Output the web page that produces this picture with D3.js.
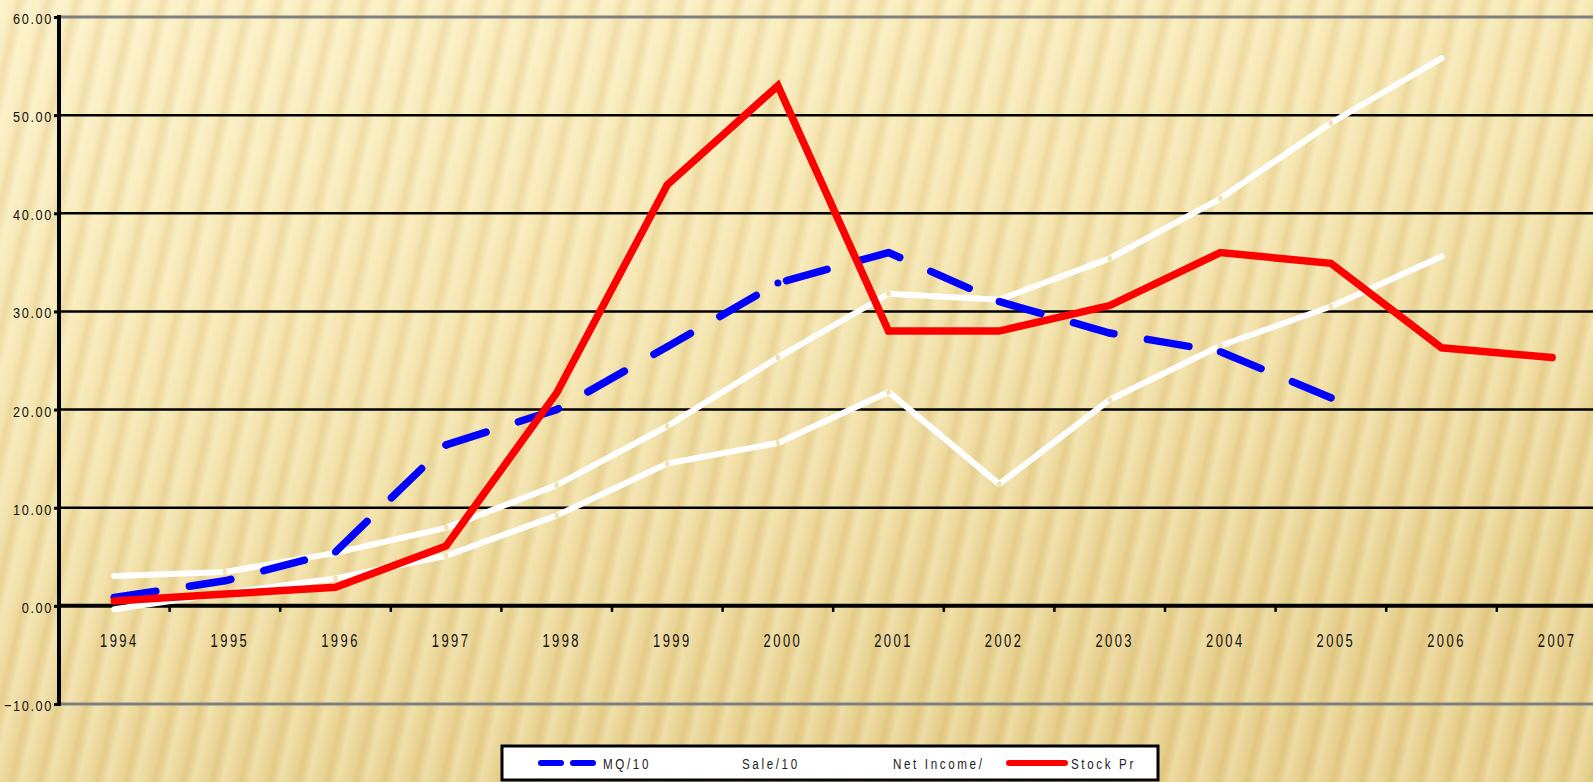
<!DOCTYPE html>
<html><head><meta charset="utf-8">
<script src="https://cdn.jsdelivr.net/npm/d3@7"></script>
<style>html,body{margin:0;padding:0;overflow:hidden;background:#f3e3ad}svg{display:block}</style>
</head><body>
<svg id="chart" width="1593" height="782"></svg>
<script>
// ---------- data ----------
const years = ["1994","1995","1996","1997","1998","1999","2000","2001","2002","2003","2004","2005","2006","2007"];
const mq         = [0.85, 2.55, 5.5, 16.4, 20.0, 26.4, 32.9, 36.0, 31.0, 27.8, 25.9, 21.2, null, null];
const sale       = [3.05, 3.45, 5.4, 7.95, 12.3, 18.3, 25.3, 31.8, 31.2, 35.4, 41.5, 49.2, 55.8, null];
const netIncome  = [-0.35, 1.3, 2.8, 5.1, 9.2, 14.5, 16.6, 21.8, 12.4, 21.0, 26.5, 30.5, 35.6, null];
const stockPrice = [0.5, 1.2, 1.9, 6.1, 21.7, 42.9, 53.0, 28.0, 28.0, 30.6, 36.0, 34.9, 26.3, 25.3];
const yTicks = [-10, 0, 10, 20, 30, 40, 50, 60];
const legendLabels = ["MQ/10", "Sale/10", "Net Income/", "Stock Pr"];

// ---------- setup ----------
const W = 1593, H = 782;
const svg = d3.select("#chart");
const FONT = "'Liberation Sans', Arial, sans-serif";

const x = d3.scaleBand().domain(years).range([59, 59 + 14 * 110.6]);
const y = d3.scaleLinear().domain([-10, 60]).range([704, 17]);
const cx = d => x(d) + x.bandwidth() / 2;

// ---------- background ----------
const defs = svg.append("defs");
const bgGrad = defs.append("linearGradient").attr("id", "bgGrad")
  .attr("x1", 0).attr("y1", 0).attr("x2", 0.45).attr("y2", 1);
bgGrad.append("stop").attr("offset", 0).attr("stop-color", "#fcf0c6");
bgGrad.append("stop").attr("offset", 0.45).attr("stop-color", "#f5e5af");
bgGrad.append("stop").attr("offset", 1).attr("stop-color", "#e6cf8c");

const stripeGrad = defs.append("linearGradient").attr("id", "stripeGrad")
  .attr("x1", 0).attr("y1", 0).attr("x2", 1).attr("y2", 0);
stripeGrad.append("stop").attr("offset", 0).attr("stop-color", "#fffbe0").attr("stop-opacity", 0.3);
stripeGrad.append("stop").attr("offset", 0.35).attr("stop-color", "#fff6d4").attr("stop-opacity", 0.1);
stripeGrad.append("stop").attr("offset", 0.65).attr("stop-color", "#c9a650").attr("stop-opacity", 0.2);
stripeGrad.append("stop").attr("offset", 1).attr("stop-color", "#fffbe0").attr("stop-opacity", 0.3);

const pat = defs.append("pattern").attr("id", "stripes")
  .attr("patternUnits", "userSpaceOnUse").attr("width", 28).attr("height", 40)
  .attr("patternTransform", "rotate(13)");
pat.append("rect").attr("width", 28).attr("height", 40).attr("fill", "url(#stripeGrad)");

svg.append("rect").attr("width", W).attr("height", H).attr("fill", "url(#bgGrad)");
svg.append("rect").attr("width", W).attr("height", H).attr("fill", "url(#stripes)");

// ---------- gridlines ----------
svg.append("g").selectAll("line").data(yTicks.filter(v => v !== 0)).join("line")
  .attr("x1", 59).attr("x2", W)
  .attr("y1", d => y(d)).attr("y2", d => y(d))
  .attr("stroke", d => (d === 60 || d === -10) ? "#7f7f7f" : "#000")
  .attr("stroke-width", d => (d === 60 || d === -10) ? 3 : 2.5);

// ---------- y axis ----------
const yAxis = svg.append("g").attr("transform", "translate(59,0)")
  .call(d3.axisLeft(y).tickValues(yTicks).tickFormat(d3.format(".2f")).tickSize(5).tickPadding(6));
yAxis.select(".domain").remove();
yAxis.selectAll(".tick line").attr("stroke", "#000").attr("stroke-width", 3);
yAxis.selectAll(".tick text")
  .attr("font-family", FONT).attr("font-size", 15.5).attr("fill", "#111")
  .attr("letter-spacing", 2)
  .attr("x", 0).attr("dy", null)
  .attr("dominant-baseline", "central")
  .attr("transform", "translate(-6,1) scale(0.82,1)");
svg.append("line").attr("x1", 59).attr("x2", 59).attr("y1", y(60) - 2).attr("y2", y(-10) + 2)
  .attr("stroke", "#000").attr("stroke-width", 4);

// ---------- x axis (at zero) ----------
svg.append("line").attr("x1", 57).attr("x2", W).attr("y1", y(0)).attr("y2", y(0))
  .attr("stroke", "#000").attr("stroke-width", 4);
svg.append("g").selectAll("line").data(years.slice(1)).join("line")
  .attr("x1", d => x(d)).attr("x2", d => x(d))
  .attr("y1", y(0)).attr("y2", y(0) + 6)
  .attr("stroke", "#000").attr("stroke-width", 2.5);
svg.append("g").selectAll("text").data(years).join("text")
  .attr("transform", d => `translate(${cx(d) + 5},${y(0) + 41}) scale(0.7,1)`)
  .attr("text-anchor", "middle")
  .attr("font-family", FONT).attr("font-size", 18.5).attr("letter-spacing", 3.5)
  .attr("fill", "#111")
  .text(d => d);

// ---------- series ----------
function series(values) {
  return years.map((yr, i) => ({ yr, v: values[i] })).filter(d => d.v !== null);
}
const line = d3.line().x(d => cx(d.yr)).y(d => y(d.v));
const plot = svg.append("g");

[sale, netIncome].forEach(vals => {
  const pts = series(vals);
  plot.append("path").datum(pts).attr("d", line)
    .attr("fill", "none").attr("stroke", "#fff").attr("stroke-width", 6)
    .attr("stroke-linejoin", "round").attr("stroke-linecap", "round");
  plot.append("g").selectAll("ellipse").data(pts.slice(1, -1)).join("ellipse")
    .attr("cx", d => cx(d.yr)).attr("cy", d => y(d.v)).attr("rx", 2.3).attr("ry", 3)
    .attr("fill", "#f1e2b4");
});

const mqPts = series(mq);
plot.append("path").datum(mqPts).attr("d", line)
  .attr("fill", "none").attr("stroke", "#0000ff").attr("stroke-width", 7.5)
  .attr("stroke-dasharray", "42,34").attr("stroke-linecap", "round").attr("stroke-linejoin", "round");
plot.append("g").selectAll("circle").data(mqPts).join("circle")
  .attr("cx", d => cx(d.yr)).attr("cy", d => y(d.v)).attr("r", 3.5).attr("fill", "#0000ff");

plot.append("path").datum(series(stockPrice)).attr("d", line)
  .attr("fill", "none").attr("stroke", "#ff0000").attr("stroke-width", 7.5)
  .attr("stroke-linejoin", "miter").attr("stroke-linecap", "round");

// ---------- legend ----------
const lg = svg.append("g");
lg.append("rect").attr("x", 502).attr("y", 746).attr("width", 656).attr("height", 34)
  .attr("fill", "#fff").attr("stroke", "#000").attr("stroke-width", 3);
const legendColors = ["#0000ff", "#ffffff", "#ffffff", "#ff0000"];
const legendDash = ["20,12", null, null, null];
const legendLineX = [541, 686, 835, 1009];
const legendTextX = [603, 742, 893, 1071];
legendLabels.forEach((lab, i) => {
  lg.append("line").attr("x1", legendLineX[i]).attr("x2", legendLineX[i] + 56)
    .attr("y1", 763).attr("y2", 763)
    .attr("stroke", legendColors[i]).attr("stroke-width", 6).attr("stroke-linecap", "round")
    .attr("stroke-dasharray", legendDash[i]);
  lg.append("text").attr("transform", `translate(${legendTextX[i]},764) scale(0.75,1)`)
    .attr("dominant-baseline", "central")
    .attr("font-family", FONT).attr("font-size", 15.5).attr("letter-spacing", 3.5)
    .attr("fill", "#222").text(lab);
});
</script>
</body></html>
